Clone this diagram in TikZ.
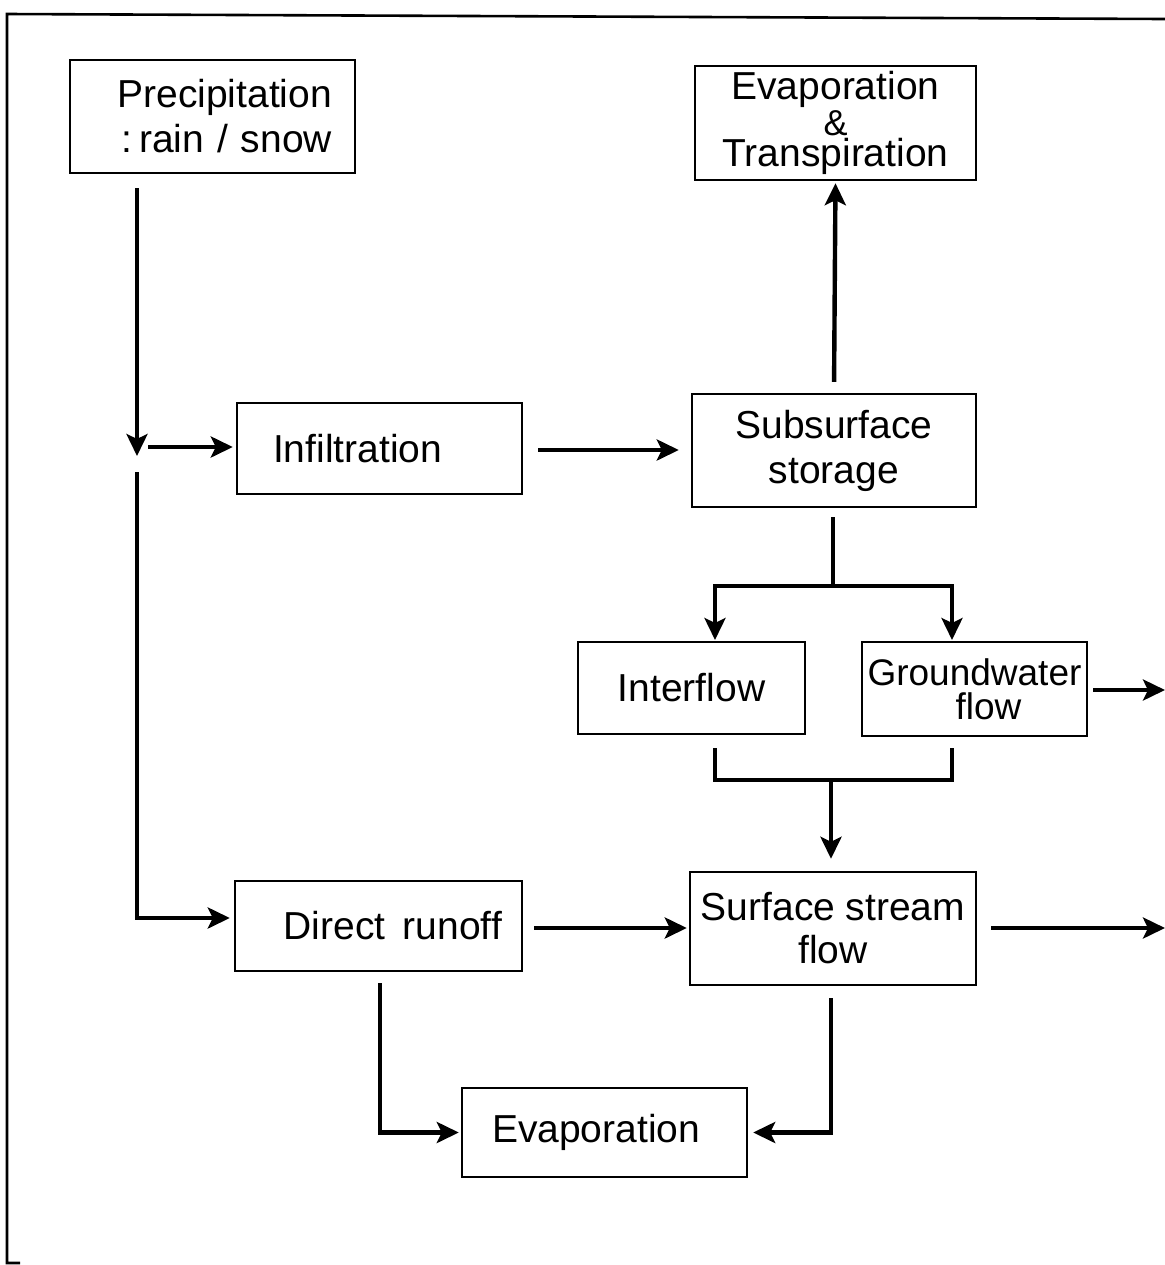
\documentclass[tikz,border=0pt]{standalone}
\usepackage{fontspec}
\setmainfont{Liberation Sans}
\usetikzlibrary{arrows.meta}
\newcommand{\tightls}{\lineskiplimit=-50pt\relax}
\begin{document}
\begin{tikzpicture}[x=0.5pt,y=-0.5pt,
  box/.style={draw,line width=1.2pt,align=center,inner sep=0pt,
    font=\fontsize{19.5}{22.5}\selectfont},
  ln/.style={line width=2.2pt},
  arr/.style={line width=2.2pt,-{Stealth[length=11pt,width=10.5pt,inset=2.5pt]}},
  frame/.style={line width=1.3pt}]
\useasboundingbox (0,0) rectangle (1165,1265);
% frame
\draw[frame] (1165,19) -- (7,14) -- (7,1263) -- (20,1263);
% boxes
\node[box,minimum width=142.5pt,minimum height=56.5pt,text width=119.5pt,
  align=right,inner xsep=11.5pt] (prec) at (212.5,116.5)
  {Precipitation\\:\,rain / snow};
\node[box,minimum width=140.5pt,minimum height=57pt,
  font={\fontsize{19.5}{10}\selectfont\lineskip=1.5pt\relax}] (et) at (835.5,123)
  {Evaporation\\{\fontsize{18}{10}\selectfont\&}\\Transpiration};
\node[box,minimum width=142.5pt,minimum height=45.5pt,text width=106.5pt,
  align=left,inner xsep=18pt] (inf) at (379.5,448.5) {Infiltration};
\node[box,minimum width=142pt,minimum height=56.5pt] (sub) at (834,450.5) {Subsurface\\storage};
\node[box,minimum width=113.5pt,minimum height=46pt] (itf) at (691.5,688) {Interflow};
\node[box,minimum width=112.5pt,minimum height=47pt,
  font={\fontsize{18.5}{17}\selectfont\tightls}] (gw) at (974.5,689) {Groundwater\\\hspace*{14pt}flow};
\node[box,minimum width=143.5pt,minimum height=45pt,text width=123.5pt,
  align=right,inner xsep=10pt] (dr) at (378.5,926) {Direct\hspace{0.45em}runoff};
\node[box,minimum width=143pt,minimum height=56.5pt,
  font=\fontsize{19.5}{21.5}\selectfont] (ssf) at (833,928.5) {Surface stream\\flow};
\node[box,minimum width=142.5pt,minimum height=44.5pt,text width=112.5pt,
  align=left,inner xsep=15pt] (ev) at (604.5,1132.5) {Evaporation};
% junction coordinates
\coordinate (p1) at (137,188);
\coordinate (p2) at (137,456);
\coordinate (p3) at (137,472);
\coordinate (p4) at (137,918);
\coordinate (j1) at (148,447);
\coordinate (sb) at (833,586);
\coordinate (ifin) at (715,640);
\coordinate (gwin) at (952,640);
\coordinate (ifo) at (715,748);
\coordinate (gwo) at (952,748);
\coordinate (mg) at (831,780);
\coordinate (gwout) at (1165,690);
\coordinate (ssfout) at (1165,928);
\coordinate (dro) at (380,983);
\coordinate (ssfo) at (831,998);
% connectors
\draw[arr] (p1) -- (p2);
\draw[arr,shorten >=1.5pt] (j1) -- (j1 -| inf.west);
\draw[arr,shorten >=2pt] (p3) -- (p4) -- (p4 -| dr.west);
\draw[arr,shorten <=7.5pt,shorten >=6pt] (inf.east |- 0,450) -- (sub.west |- 0,450);
\draw[arr,shorten <=5.5pt,shorten >=1pt] (sub.north) -- (et.south);
\draw[ln,shorten <=4.5pt] (sub.south -| sb) -- (sb);
\draw[arr] (sb) -| (ifin);
\draw[arr] (sb) -| (gwin);
\draw[ln] (ifo) |- (mg) -| (gwo);
\draw[arr,shorten >=6pt] (mg) -- (mg |- ssf.north);
\draw[arr,shorten <=2.5pt] (gw.east |- gwout) -- (gwout);
\draw[arr,shorten <=7pt] (ssf.east |- ssfout) -- (ssfout);
\draw[arr,shorten <=5.5pt,shorten >=1pt] (dr.east |- 0,928) -- (ssf.west |- 0,928);
\draw[arr,shorten >=1pt] (dro) |- (ev.west);
\draw[arr,shorten >=2.5pt] (ssfo) |- (ev.east);
\end{tikzpicture}
\end{document}
